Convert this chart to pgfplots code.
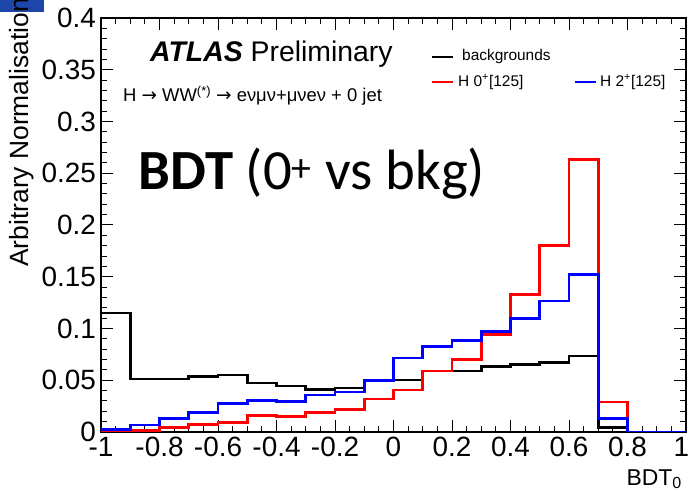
\documentclass[border=0pt]{standalone}
\usepackage{fontspec}
\setmainfont{Liberation Sans}
\newfontfamily\carlito{Carlito}
\newfontfamily\dejavu{DejaVu Sans}
\usepackage{pgfplots}
\usepackage{pgfplotstable}
\pgfplotsset{compat=1.18}
\definecolor{rootred}{RGB}{255,0,0}
\definecolor{rootblue}{RGB}{0,0,255}
\definecolor{logoblue}{RGB}{30,70,170}
\pgfplotstableread{
x     bkg     hzero   htwo
-1.0  0.1150  0.0010  0.0026
-0.9  0.0513  0.0015  0.0068
-0.8  0.0513  0.0045  0.0133
-0.7  0.0540  0.0070  0.0188
-0.6  0.0550  0.0090  0.0276
-0.5  0.0474  0.0156  0.0305
-0.4  0.0445  0.0146  0.0292
-0.3  0.0410  0.0190  0.0357
-0.2  0.0425  0.0214  0.0386
-0.1  0.0502  0.0318  0.0500
 0.0  0.0503  0.0406  0.0715
 0.1  0.0590  0.0590  0.0828
 0.2  0.0590  0.0700  0.0886
 0.3  0.0636  0.0940  0.0970
 0.4  0.0650  0.1325  0.1094
 0.5  0.0675  0.1800  0.1266
 0.6  0.0734  0.2630  0.1520
 0.7  0.0042  0.0290  0.0127
 0.8  0.0000  0.0000  0.0000
 0.9  0.0000  0.0000  0.0000
 1.0  0.0000  0.0000  0.0000
}\histdata
\begin{document}
\begin{tikzpicture}
\clip (-101bp,-60bp) rectangle (588bp,432bp);
\fill[logoblue] (-101bp,420bp) rectangle (-57bp,432bp);
\begin{axis}[
  name=ax,
  at={(0,0)}, anchor=south west,
  scale only axis,
  width=585bp, height=414bp,
  xmin=-1, xmax=1, ymin=0, ymax=0.4,
  xtick={-1,-0.8,-0.6,-0.4,-0.2,0,0.2,0.4,0.6,0.8,1},
  xticklabels={-1,-0.8,-0.6,-0.4,-0.2,0,0.2,0.4,0.6,0.8,1\hspace*{9bp}},
  ytick={0,0.05,0.1,0.15,0.2,0.25,0.3,0.35,0.4},
  yticklabels={0,0.05,0.1,0.15,0.2,0.25,0.3,0.35,0.4},
  minor x tick num=3,
  minor y tick num=4,
  tick align=inside,
  xtick pos=both, ytick pos=both,
  major tick length=12bp,
  minor tick length=6bp,
  every tick/.style={black, line width=1bp},
  axis line style={line width=1.3bp},
  ticklabel style={font=\fontsize{28}{30}\selectfont, overlay},
  xticklabel style={inner sep=0pt, yshift=-5bp},
  yticklabel style={inner sep=0pt, xshift=-5bp},
  clip=true,
  no markers,
]
\addplot[const plot mark left, black, line width=2.8bp] table[x=x,y=bkg]{\histdata};
\addplot[const plot mark left, rootred, line width=2.8bp] table[x=x,y=hzero]{\histdata};
\addplot[const plot mark left, rootblue, line width=2.8bp] table[x=x,y=htwo]{\histdata};
\end{axis}
% y label
\node[overlay, rotate=90, anchor=base east, inner sep=0pt, font=\fontsize{26.5}{28}\selectfont]
  at (-72bp,434bp) {Arbitrary Normalisation};
% x label
\node[anchor=base east, inner sep=0pt, font=\fontsize{23}{25}\selectfont]
  at (581bp,-53bp) {BDT\textsubscript{0}};
% ATLAS
\node[anchor=base west, inner sep=0pt, font=\fontsize{28.5}{30}\selectfont]
  at (49bp,370bp) {\textbf{\textit{ATLAS}} Preliminary};
\node[anchor=base west, inner sep=0pt, font=\fontsize{18.5}{20}\selectfont]
  at (22bp,330bp) {H {\dejavu →} WW\textsuperscript{(*)} {\dejavu →} eνμν+μνeν + 0 jet};
% big label
\node[anchor=base west, inner sep=0pt, font=\carlito\fontsize{57}{60}\selectfont]
  at (37bp,242bp) {\textbf{BDT} (0\textsuperscript{+} vs bkg)};
% legend
\draw[black, line width=2.8bp] (331bp,375bp) -- (352bp,375bp);
\node[anchor=west, inner sep=0pt, font=\fontsize{15.5}{17}\selectfont] at (361bp,375bp) {backgrounds};
\draw[rootred, line width=2.8bp] (331bp,350bp) -- (352bp,350bp);
\node[anchor=west, inner sep=0pt, font=\fontsize{15.5}{17}\selectfont] at (357bp,350bp) {H 0\textsuperscript{+}[125]};
\draw[rootblue, line width=2.8bp] (474bp,350bp) -- (495bp,350bp);
\node[anchor=west, inner sep=0pt, font=\fontsize{15.5}{17}\selectfont] at (499bp,350bp) {H 2\textsuperscript{+}[125]};
\end{tikzpicture}
\end{document}
